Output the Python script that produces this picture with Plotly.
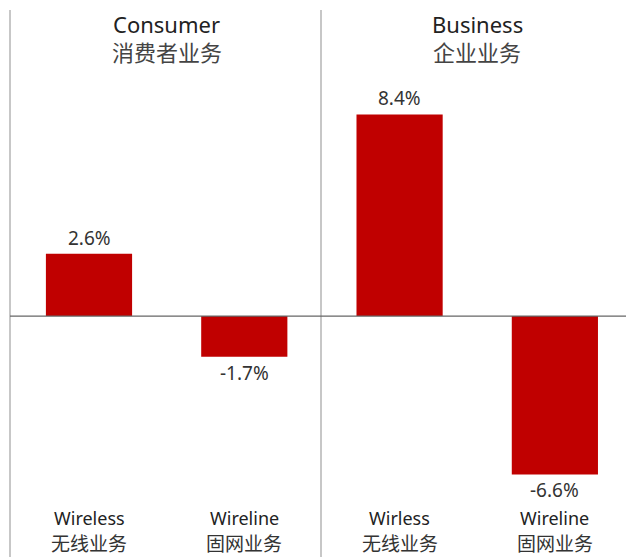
import plotly.graph_objects as go

# Segment growth figures
segments = ["Consumer", "Business"]
segments_cn = ["消费者业务", "企业业务"]
categories = ["Wireless", "Wireline", "Wirless", "Wireline"]
categories_cn = ["无线业务", "固网业务", "无线业务", "固网业务"]
growth = [2.6, -1.7, 8.4, -6.6]

W, H = 626, 557
RED = "#C00000"
TEXT = "#333333"
FONT = "Noto Sans, Noto Sans CJK SC, sans-serif"

xs = list(range(len(categories)))

fig = go.Figure(
    go.Bar(
        x=xs,
        y=growth,
        width=0.555,
        marker=dict(color=RED, line=dict(width=0)),
        hoverinfo="skip",
    )
)

# Value labels above positive bars, below negative ones
for x, v in zip(xs, growth):
    fig.add_annotation(
        x=x, y=v, xref="x", yref="y",
        text=f"{v:.1f}%",
        showarrow=False,
        yanchor="bottom" if v >= 0 else "top",
        yshift=1 if v >= 0 else -1,
        font=dict(family=FONT, size=19, color=TEXT),
    )

# Category labels along the bottom
for x, en, cn in zip(xs, categories, categories_cn):
    fig.add_annotation(x=x, y=1 - 518 / H, xref="x", yref="paper", text=en,
                       showarrow=False, yanchor="middle",
                       font=dict(family=FONT, size=18, color="#222222"))
    fig.add_annotation(x=x, y=1 - 544 / H, xref="x", yref="paper", text=cn,
                       showarrow=False, yanchor="middle",
                       font=dict(family=FONT, size=19, color="#333333"))

# Segment titles
for i, (en, cn) in enumerate(zip(segments, segments_cn)):
    cx = 2 * i + 0.5
    fig.add_annotation(x=cx, y=1 - 24 / H, xref="x", yref="paper", text=en,
                       showarrow=False, yanchor="middle",
                       font=dict(family=FONT, size=22, color="#222222"))
    fig.add_annotation(x=cx, y=1 - 52 / H, xref="x", yref="paper", text=cn,
                       showarrow=False, yanchor="middle",
                       font=dict(family=FONT, size=22, color="#444444"))

# Panel dividers and zero line
for px in (10, 321):
    fig.add_shape(type="line", xref="paper", yref="paper",
                  x0=px / W, x1=px / W, y0=0, y1=1 - 10 / H,
                  line=dict(color="#b5b5b5", width=1.5))
fig.add_shape(type="line", xref="paper", yref="y",
              x0=10 / W, x1=1, y0=0, y1=0,
              line=dict(color="#666666", width=1.2))

fig.update_layout(
    width=W, height=H,
    margin=dict(l=0, r=0, t=0, b=0),
    paper_bgcolor="white", plot_bgcolor="white",
    showlegend=False,
    xaxis=dict(range=[-0.5731, 3.458], visible=False, fixedrange=True),
    yaxis=dict(range=[-10.04, 13.17], visible=False, fixedrange=True),
)

fig.write_html("out.html")
